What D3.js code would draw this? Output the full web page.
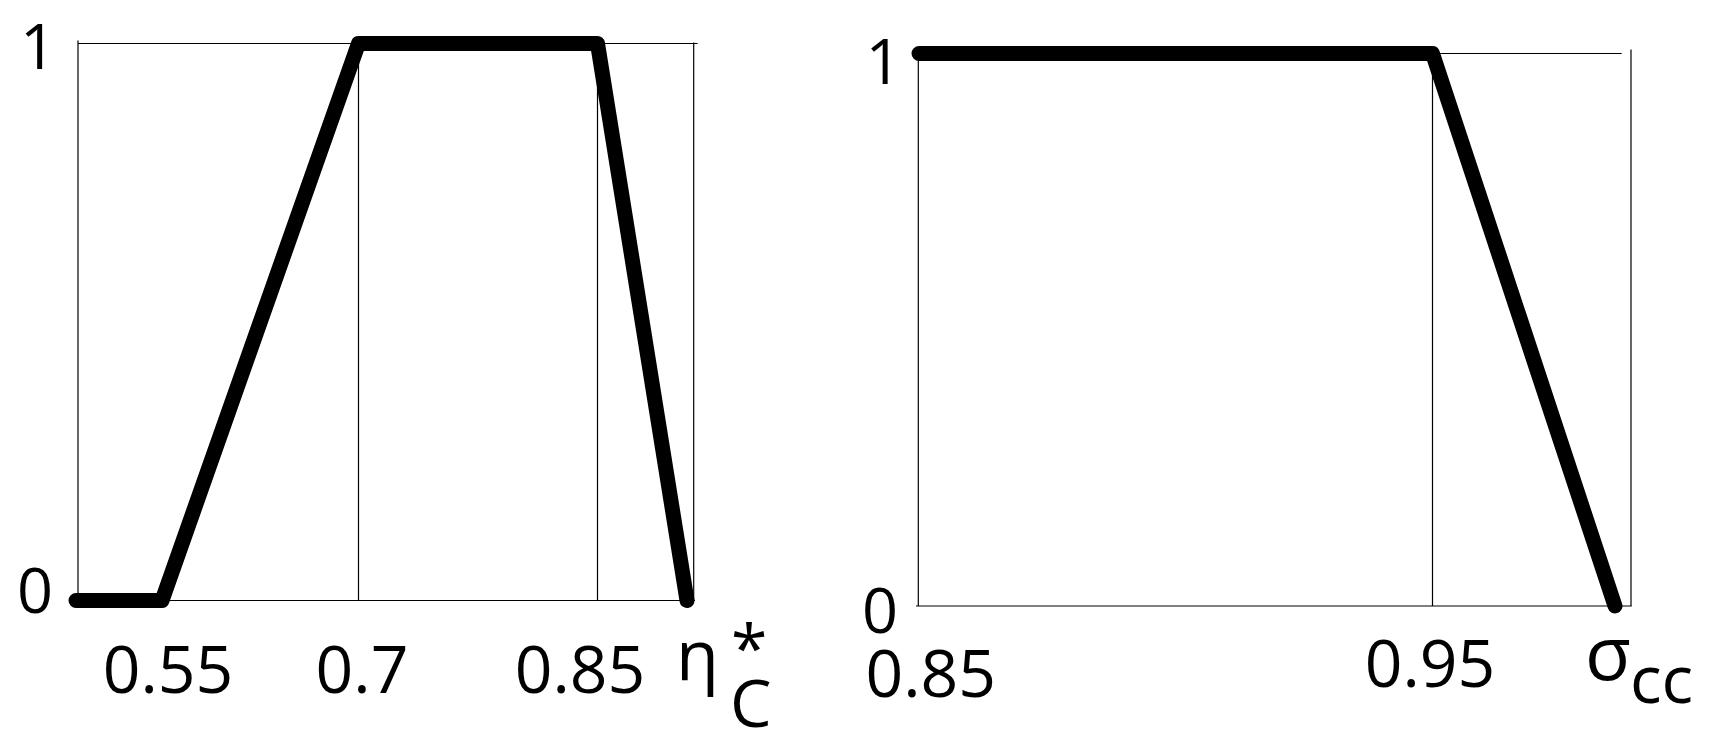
<!DOCTYPE html>
<html><head><meta charset="utf-8">
<script src="https://cdn.jsdelivr.net/npm/d3@7"></script>
<style>
html,body{margin:0;padding:0;background:#fff;}
svg{display:block;}
text{font-family:"Open Sans",sans-serif;fill:#000;}
</style>
</head><body>
<svg id="c" width="1717" height="745"></svg>
<script>
// ---------- data ----------
const etaValues = [0.5, 0.55, 0.7, 0.85, 0.9];
const etaMembership = [0, 0, 1, 1, 0];
const etaTicks = [0.55, 0.7, 0.85];
const etaTickLabels = ["0.55", "0.7", "0.85"];
const etaGrid = [0.7, 0.85];

const sigmaValues = [0.85, 0.95, 1.0];
const sigmaMembership = [1, 1, 0];
const sigmaTicks = [0.85, 0.95];
const sigmaTickLabels = ["0.85", "0.95"];
const sigmaGrid = [0.95];

const yTicks = [0, 1];
const yTickLabels = ["0", "1"];

// ---------- layout ----------
const FONT = 66;
const YFONT = 63;
const svg = d3.select("#c");

const panels = [
  {
    values: etaValues, member: etaMembership, ticks: etaTicks, tickLabels: etaTickLabels, grid: etaGrid,
    xRange: [76, 162, 358.5, 597.5, 687],
    yRange: [600.5, 43.5],
    frame: {left: 78, right: 693.7, topExt: 697.7, bottomExt: 695, leftTopOver: 3, rightTopOver: 1},
    xLabelDx: [6, 3.5, -17.5], xLabelBase: [693, 693, 693],
    yLabelX: [35, 38], yLabelBase: [613, 69],
    title: [{t: "\u03B7", x: 676, y: 680, s: 70}, {t: "*", x: 731, y: 672, s: 66}, {t: "C", x: 730, y: 727, s: 66}]
  },
  {
    values: sigmaValues, member: sigmaMembership, ticks: sigmaTicks, tickLabels: sigmaTickLabels, grid: sigmaGrid,
    xRange: [919, 1432.5, 1615],
    yRange: [606, 53.5],
    frame: {left: 918.3, right: 1631, topExt: 1621.7, bottomExt: 1631.7, leftTopOver: 0, rightTopOver: 4, bottomStart: 916},
    xLabelDx: [11.7, -2.5], xLabelBase: [697, 687],
    yLabelX: [880, 883.5], yLabelBase: [633, 84],
    title: [{t: "\u03C3", x: 1585, y: 680, s: 75}, {t: "cc", x: 1630, y: 703, s: 66}]
  }
];

panels.forEach(p => {
  const x = d3.scaleLinear().domain(p.values).range(p.xRange);
  const y = d3.scaleLinear().domain([0, 1]).range(p.yRange);
  const g = svg.append("g");
  const f = p.frame;
  const thin = {stroke: "#000", w: 1.2};

  // frame
  const frameLines = [
    [f.left, y(1) - f.leftTopOver, f.left, y(0)],
    [f.left, y(1), f.topExt, y(1)],
    [f.right, y(1) - f.rightTopOver, f.right, y(0)],
    [f.bottomStart || f.left, y(0), f.bottomExt, y(0)]
  ];
  g.selectAll("line.frame").data(frameLines).join("line")
    .attr("class", "frame")
    .attr("x1", d => d[0]).attr("y1", d => d[1])
    .attr("x2", d => d[2]).attr("y2", d => d[3])
    .attr("stroke", thin.stroke).attr("stroke-width", thin.w);

  // grid lines at breakpoints
  g.selectAll("line.grid").data(p.grid).join("line")
    .attr("class", "grid")
    .attr("x1", d => x(d)).attr("x2", d => x(d))
    .attr("y1", y(1)).attr("y2", y(0))
    .attr("stroke", thin.stroke).attr("stroke-width", thin.w);

  // membership function
  const pts = p.values.map((v, i) => [v, p.member[i]]);
  g.append("path")
    .datum(pts)
    .attr("d", d3.line().x(d => x(d[0])).y(d => y(d[1])))
    .attr("fill", "none").attr("stroke", "#000")
    .attr("stroke-width", 15)
    .attr("stroke-linecap", "round").attr("stroke-linejoin", "round");

  // x tick labels
  g.selectAll("text.xt").data(p.ticks).join("text")
    .attr("class", "xt")
    .attr("x", (d, i) => x(d) + p.xLabelDx[i])
    .attr("y", (d, i) => p.xLabelBase[i])
    .attr("text-anchor", "middle")
    .attr("font-size", FONT)
    .text((d, i) => p.tickLabels[i]);

  // y tick labels
  g.selectAll("text.yt").data(yTicks).join("text")
    .attr("class", "yt")
    .attr("x", (d, i) => p.yLabelX[i])
    .attr("y", (d, i) => p.yLabelBase[i])
    .attr("text-anchor", "middle")
    .attr("font-size", YFONT)
    .text((d, i) => yTickLabels[i]);

  // axis title
  g.selectAll("text.tt").data(p.title).join("text")
    .attr("class", "tt")
    .attr("x", d => d.x).attr("y", d => d.y)
    .attr("font-size", d => d.s)
    .text(d => d.t);
});
</script>
</body></html>
